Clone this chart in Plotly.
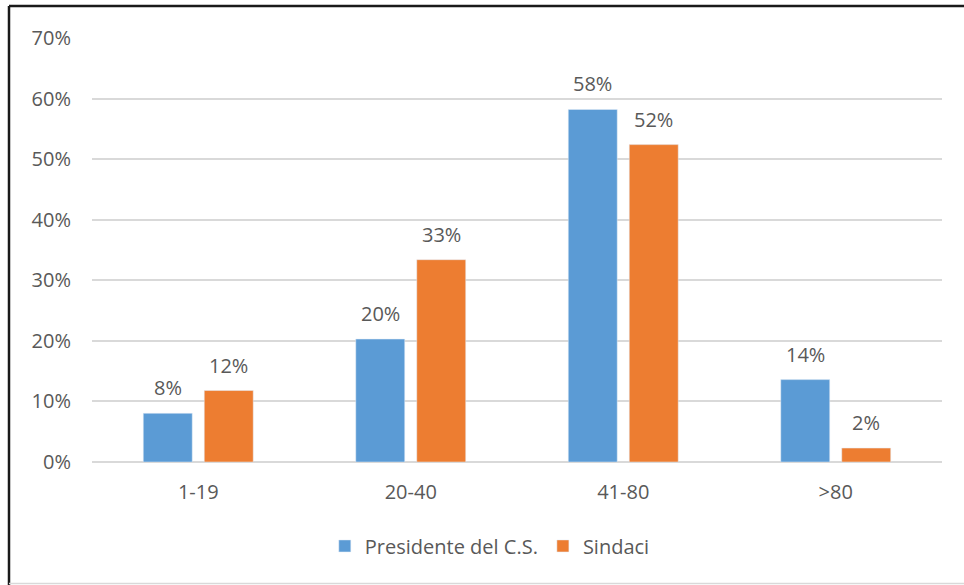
import plotly.graph_objects as go

# Age bands and share of each role per band
categories = ["1-19", "20-40", "41-80", ">80"]
presidente = [0.0804, 0.203, 0.582, 0.136]
sindaci = [0.118, 0.334, 0.524, 0.023]
y_ticks = [0, 0.1, 0.2, 0.3, 0.4, 0.5, 0.6, 0.7]
y_tick_labels = ["0%", "10%", "20%", "30%", "40%", "50%", "60%", "70%"]

TEXT = "#595959"
FONT = "Open Sans"
SIZE = 20

fig = go.Figure()
fig.add_trace(go.Bar(name="Presidente del C.S.", x=categories, y=presidente,
                     marker=dict(color="#5B9BD5")))
fig.add_trace(go.Bar(name="Sindaci", x=categories, y=sindaci,
                     marker=dict(color="#ED7D31")))

# Value labels above each bar, offset to sit over its bar within the group
for values, dx in ((presidente, -30.5), (sindaci, 30.5)):
    for cat, v in zip(categories, values):
        fig.add_annotation(x=cat, y=v, xref="x", yref="y", text=f"{v:.0%}",
                           showarrow=False, xshift=dx, yanchor="bottom", yshift=10,
                           font=dict(size=SIZE, color=TEXT, family=FONT))

fig.update_layout(
    width=964, height=585,
    margin=dict(l=92, r=22, t=38, b=123),
    paper_bgcolor="white", plot_bgcolor="white",
    barmode="group", bargap=0.426, bargroupgap=0.197,
    font=dict(family=FONT, color=TEXT, size=SIZE),
    showlegend=True,
    legend=dict(orientation="h", x=0.468, xanchor="center", y=-0.198, yanchor="middle",
                font=dict(size=SIZE, color=TEXT, family=FONT), traceorder="normal"),
    xaxis=dict(showgrid=False, showline=False, zeroline=False, ticks="",
               ticklabelstandoff=16, tickfont=dict(size=SIZE, color=TEXT)),
    yaxis=dict(range=[0, 0.7], tickvals=y_ticks, ticktext=y_tick_labels,
               showgrid=True, gridcolor="#D9D9D9", gridwidth=1.5,
               zeroline=True, zerolinecolor="#D9D9D9", zerolinewidth=1.5,
               showline=False, ticks="", ticklabelstandoff=20,
               tickfont=dict(size=SIZE, color=TEXT)),
)

# Chart frame: dark left/top edges, faint bottom edge
fig.add_shape(type="line", xref="paper", yref="paper",
              x0=(9 - 92) / 850, x1=1.1, y0=(462 - 6) / 424, y1=(462 - 6) / 424,
              line=dict(color="#1a1a1a", width=2.5))
fig.add_shape(type="line", xref="paper", yref="paper",
              x0=(9 - 92) / 850, x1=(9 - 92) / 850, y0=(462 - 6) / 424, y1=(462 - 585) / 424,
              line=dict(color="#1a1a1a", width=2.5))
fig.add_shape(type="line", xref="paper", yref="paper",
              x0=(9 - 92) / 850, x1=1.1, y0=(462 - 583.5) / 424, y1=(462 - 583.5) / 424,
              line=dict(color="#D9D9D9", width=1.5))

fig.write_html("out.html")
